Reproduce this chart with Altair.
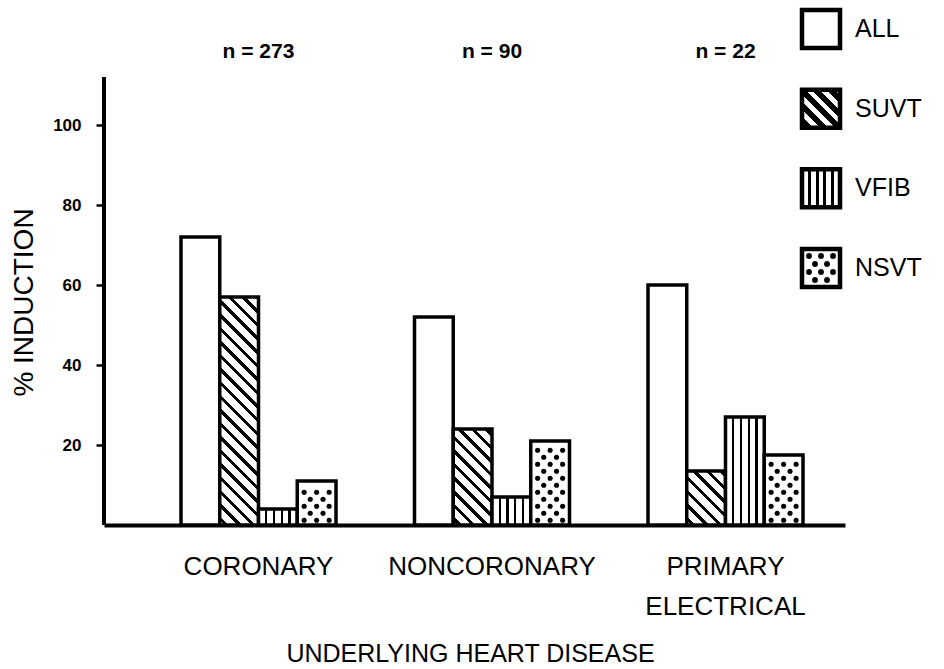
import altair as alt
import numpy as np
import pandas as pd

# ---- data -------------------------------------------------------------
categories = ["CORONARY", "NONCORONARY", "PRIMARY ELECTRICAL"]
series = ["ALL", "SUVT", "VFIB", "NSVT"]
pct_all = [72, 52, 60]
pct_suvt = [57, 24, 13.5]
pct_vfib = [4, 7, 27]
pct_nsvt = [11, 21, 17.5]
n_labels = ["n = 273", "n = 90", "n = 22"]

# ---- layout -----------------------------------------------------------
PLOT_W, PLOT_H = 741, 520
Y_MAX = 130
PX_PER_UNIT = PLOT_H / Y_MAX
GROUP_STEP, GROUP_BAND, FIRST_CENTER = 233.5, 155.0, 154.5
pad_inner = 1 - GROUP_BAND / GROUP_STEP
outer_total = PLOT_W - GROUP_STEP * (len(categories) - pad_inner)
pad_outer = outer_total / 2 / GROUP_STEP
band_align = (FIRST_CENTER - GROUP_BAND / 2) / outer_total
BAR_W = GROUP_BAND / len(series)
FONT = "Liberation Sans"

values = {"ALL": pct_all, "SUVT": pct_suvt, "VFIB": pct_vfib, "NSVT": pct_nsvt}
bars = pd.DataFrame(
    [{"category": c, "series": s, "pct": values[s][i]}
     for i, c in enumerate(categories) for s in series]
)


# ---- fill textures built from linear gradients -------------------------
def stripes(length, period, ink_w, phase, ink, paper):
    stops = [alt.GradientStop(color=paper, offset=0)]
    c = phase
    while c - ink_w / 2 < length:
        s = max(0.0, (c - ink_w / 2) / length)
        e = min(1.0, (c + ink_w / 2) / length)
        stops += [alt.GradientStop(color=paper, offset=s),
                  alt.GradientStop(color=ink, offset=s),
                  alt.GradientStop(color=ink, offset=e),
                  alt.GradientStop(color=paper, offset=e)]
        c += period
    stops.append(alt.GradientStop(color=paper, offset=1))
    return stops


def diagonal_hatch(w, h, period=9.6, ink_w=3.2, ink="black", paper="white"):
    # "\" stripes at 45 degrees in screen space, for a box of w x h pixels
    length = (w + h) / np.sqrt(2)
    k = (w + h) / (w ** 2 + h ** 2)
    return alt.LinearGradient(
        gradient="linear",
        stops=stripes(length, period, ink_w, period / 2, ink, paper),
        x1=0, y1=1, x2=k * w, y2=1 - k * h,
    )


def vertical_hatch(w, count=4, ink_w=2.2):
    stops = [alt.GradientStop(color="white", offset=0)]
    for i in range(1, count + 1):
        c = i / (count + 1)
        s, e = c - ink_w / 2 / w, c + ink_w / 2 / w
        stops += [alt.GradientStop(color="white", offset=s),
                  alt.GradientStop(color="black", offset=s),
                  alt.GradientStop(color="black", offset=e),
                  alt.GradientStop(color="white", offset=e)]
    stops.append(alt.GradientStop(color="white", offset=1))
    return alt.LinearGradient(gradient="linear", stops=stops, x1=0, y1=0, x2=1, y2=0)


# ---- shared encodings ---------------------------------------------------
x_enc = alt.X(
    "category:N",
    sort=categories,
    scale=alt.Scale(domain=categories, paddingInner=pad_inner,
                    paddingOuter=pad_outer, align=band_align),
    axis=alt.Axis(
        title="UNDERLYING HEART DISEASE", titleFont=FONT, titleFontSize=25,
        titleFontWeight="normal", titleColor="black", titleY=136,
        titleBaseline="alphabetic", titleX=366,
        labelExpr="split(datum.label, ' ')", labelAngle=0, labelFont=FONT,
        labelFontSize=26, labelColor="black", labelLineHeight=40,
        labelPadding=28, labelLimit=400, ticks=False,
        domainColor="black", domainWidth=4,
    ),
)
xo_enc = alt.XOffset("series:N",
                     scale=alt.Scale(domain=series, paddingInner=0, paddingOuter=0))
y_scale = alt.Scale(domain=[0, Y_MAX], nice=False, zero=True)
y_axis = alt.Axis(
    values=[20, 40, 60, 80, 100], domain=False, grid=False,
    tickSize=8, tickWidth=2.5, tickColor="black",
    labelFont=FONT, labelFontWeight="bold", labelFontSize=17,
    labelColor="black", labelPadding=15,
    title="% INDUCTION", titleFont=FONT, titleFontSize=28,
    titleFontWeight="normal", titleColor="black", titleAngle=-90,
    titleX=-72, titleY=297, titleBaseline="alphabetic", titleAlign="center",
)
y_enc = alt.Y("pct:Q", scale=y_scale, axis=y_axis)

base = alt.Chart(bars)
bar_style = dict(stroke="black", strokeWidth=3.5)

layers = [
    base.transform_filter(alt.datum.series == "ALL")
    .mark_bar(fill="white", **bar_style)
    .encode(x=x_enc, xOffset=xo_enc, y=y_enc)
]
for c, v in zip(categories, pct_suvt):
    layers.append(
        base.transform_filter((alt.datum.series == "SUVT") & (alt.datum.category == c))
        .mark_bar(fill=diagonal_hatch(BAR_W, v * PX_PER_UNIT), **bar_style)
        .encode(x=x_enc, xOffset=xo_enc, y=y_enc)
    )
layers.append(
    base.transform_filter(alt.datum.series == "VFIB")
    .mark_bar(fill=vertical_hatch(BAR_W), **bar_style)
    .encode(x=x_enc, xOffset=xo_enc, y=y_enc)
)
layers.append(
    base.transform_filter(alt.datum.series == "NSVT")
    .mark_bar(fill="white", **bar_style)
    .encode(x=x_enc, xOffset=xo_enc, y=y_enc)
)

# stipple for the NSVT bars
DOT_ROW = 1.75
nsvt_shift = (series.index("NSVT") + 0.5) * BAR_W - GROUP_BAND / 2
dot_rows = []
for c, v in zip(categories, pct_nsvt):
    k, yv = 0, 1.2
    while yv <= v - 1.4:
        cols = [-12.5, 0, 12.5] if k % 2 == 0 else [-6.4, 6.4]
        for d in cols:
            dot_rows.append({"category": c, "pct": yv, "dx": nsvt_shift + d})
        k += 1
        yv += DOT_ROW
dots = pd.DataFrame(dot_rows)
layers.append(
    alt.Chart(dots)
    .mark_circle(size=26, color="black", opacity=1, xOffset=alt.expr("datum.dx"))
    .encode(x=x_enc, y=y_enc)
)

# vertical axis line
layers.append(
    alt.Chart(pd.DataFrame({"pct": [0]}))
    .mark_rule(color="black", strokeWidth=4)
    .encode(x=alt.value(0), y=alt.Y(datum=0, scale=y_scale, axis=y_axis),
            y2=alt.datum(112))
)

# sample sizes above each group
layers.append(
    alt.Chart(pd.DataFrame({"category": categories, "label": n_labels}))
    .mark_text(font=FONT, fontSize=21, fontWeight="bold", color="black",
               baseline="middle")
    .encode(x=x_enc, y=alt.value(47), text="label:N")
)

main = alt.layer(*layers)

# ---- legend ------------------------------------------------------------
LEG = 38
leg_df = pd.DataFrame({"series": series})
leg_y = alt.Y("series:N", axis=None,
              scale=alt.Scale(type="point", domain=series, range=[24, 263], padding=0))
leg_fills = {
    "ALL": "white",
    "SUVT": diagonal_hatch(LEG, LEG, period=10.4, ink_w=5.6),
    "VFIB": vertical_hatch(LEG, ink_w=3.0),
    "NSVT": "white",
}
leg_layers = []
for s in series:
    leg_layers.append(
        alt.Chart(leg_df).transform_filter(alt.datum.series == s)
        .mark_square(size=LEG * LEG, fill=leg_fills[s], stroke="black",
                     strokeWidth=4.5, opacity=1)
        .encode(x=alt.value(717), y=leg_y)
    )
leg_dot_rows = []
for r, dy in enumerate([-12, -4, 4, 12]):
    for dx in ([-12, 0, 12] if r % 2 == 0 else [-6, 6]):
        leg_dot_rows.append({"series": "NSVT", "dx": dx, "dy": dy})
leg_layers.append(
    alt.Chart(pd.DataFrame(leg_dot_rows))
    .mark_circle(size=34, color="black", opacity=1,
                 xOffset=alt.expr("datum.dx"), yOffset=alt.expr("datum.dy"))
    .encode(x=alt.value(717), y=leg_y)
)
leg_layers.append(
    alt.Chart(leg_df)
    .mark_text(font=FONT, fontSize=25, color="black", align="left", baseline="middle")
    .encode(x=alt.value(751), y=leg_y, text="series:N")
)
legend = alt.layer(*leg_layers)

chart = (
    alt.layer(main, legend)
    .resolve_scale(y="independent")
    .properties(
        width=PLOT_W, height=PLOT_H,
        padding={"left": 104, "top": 5, "right": 944 - 104 - PLOT_W,
                 "bottom": 669 - 5 - PLOT_H},
        autosize=alt.AutoSizeParams(type="none"),
        background="white",
    )
    .configure_view(stroke=None)
)

chart.save("out.html", embed_options={"renderer": "svg", "actions": False})
